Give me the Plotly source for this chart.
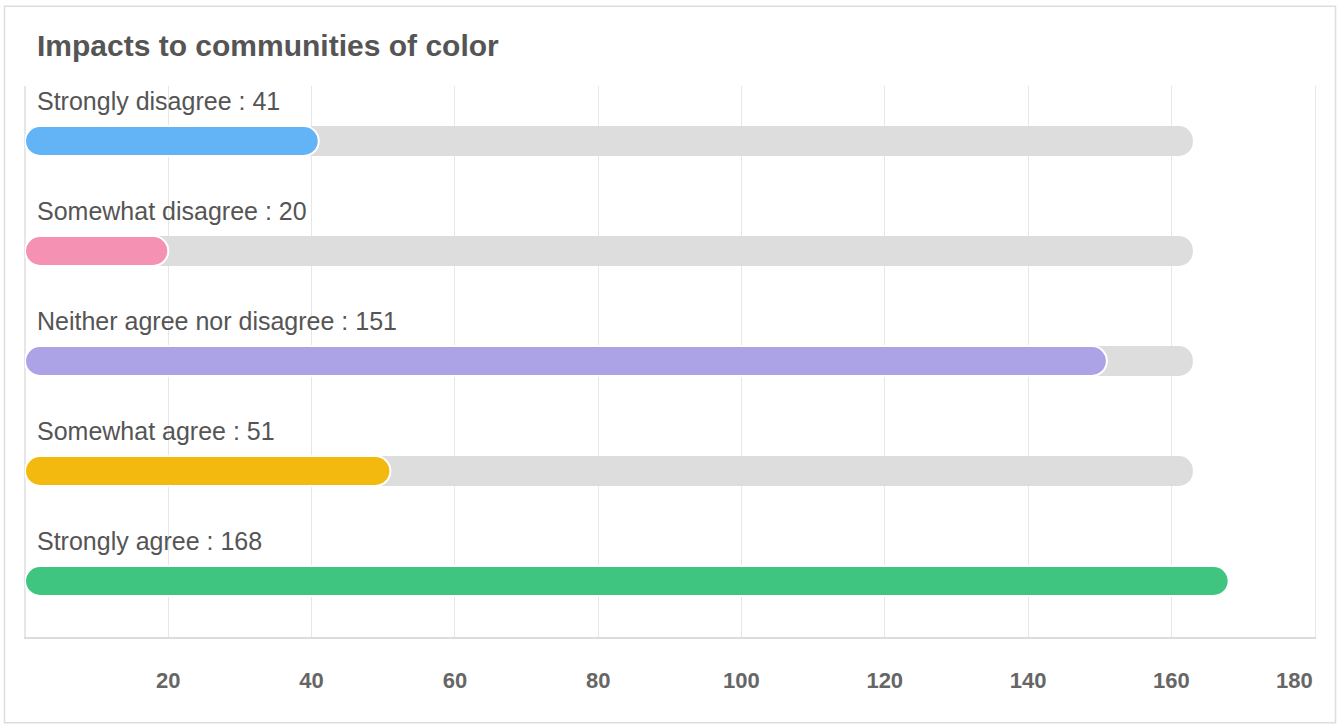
import plotly.graph_objects as go

categories = ["Strongly disagree", "Somewhat disagree", "Neither agree nor disagree",
              "Somewhat agree", "Strongly agree"]
values = [41, 20, 151, 51, 168]
track_max = 163
colors = ["#63B4F6", "#F591B2", "#ACA3E7", "#F4B90E", "#40C580"]
tick_vals = [0, 20, 40, 60, 80, 100, 120, 140, 160, 180]
tick_text = ["", "20", "40", "60", "80", "100", "120", "140", "160", ""]
last_tick_label = "180"
title_text = "Impacts to communities of color"

FONT = "Liberation Sans, Arial, Helvetica, sans-serif"
BAR_W = 0.272
RADIUS = 15
TICK_FONT = dict(family=FONT, size=22, color="#666666", weight="bold")

fig = go.Figure()

# gray background tracks (base set -> all corners rounded)
fig.add_trace(go.Bar(
    y=categories, x=[track_max] * len(categories), base=[0] * len(categories),
    orientation="h", width=BAR_W,
    marker=dict(color="#DDDDDD", cornerradius=RADIUS, line=dict(width=0)),
    hoverinfo="skip", showlegend=False))

# value bars
fig.add_trace(go.Bar(
    y=categories, x=values, base=[0] * len(values),
    orientation="h", width=BAR_W,
    marker=dict(color=colors, cornerradius=RADIUS, line=dict(color="white", width=2)),
    hoverinfo="skip", showlegend=False))

for c, v in zip(categories, values):
    fig.add_annotation(x=0, y=c, xref="x", yref="y", text=f"{c} : {v}",
                       showarrow=False, xanchor="left", yanchor="middle",
                       xshift=10, yshift=40,
                       font=dict(family=FONT, size=25, color="#555555"))

# last axis label, right-aligned to the axis end (kept inside the chart)
fig.add_annotation(x=tick_vals[-1], y=0, xref="x", yref="paper", text=f"<b>{last_tick_label}</b>",
                   showarrow=False, xanchor="right", yanchor="middle", yshift=-43,
                   font=dict(family=FONT, size=22, color="#666666"))

# outer border
fig.add_shape(type="rect", xref="paper", yref="paper",
              x0=-0.0159, x1=1.0159, y0=-0.1558, y1=1.1449,
              line=dict(color="#DDDDDD", width=1.5), fillcolor="rgba(0,0,0,0)", layer="below")

fig.update_layout(
    width=1340, height=728,
    margin=dict(l=25, r=25, t=86, b=91),
    paper_bgcolor="white", plot_bgcolor="white",
    barmode="overlay",
    title=dict(text=f"<b>{title_text}</b>", x=37 / 1340, xref="container", xanchor="left",
               y=1 - 45 / 728, yref="container", yanchor="middle",
               font=dict(family=FONT, size=30, color="#555555")),
    xaxis=dict(range=[0, 180.05], tickvals=tick_vals, ticktext=tick_text,
               showgrid=True, gridcolor="#E6E6E6", gridwidth=1,
               zeroline=True, zerolinecolor="#E6E6E6", zerolinewidth=1,
               showline=True, linecolor="#DCDCDC", linewidth=2,
               ticks="", ticklabelstandoff=23,
               tickfont=TICK_FONT,
               fixedrange=True),
    yaxis=dict(autorange="reversed", showticklabels=False, showgrid=False,
               zeroline=False, showline=True, mirror=True, linecolor="#E6E6E6", linewidth=1,
               ticks="", fixedrange=True),
    font=dict(family=FONT),
)

fig.write_html(
    "out.html", config={"displayModeBar": False},
    post_script="document.body.style.margin='0';")
